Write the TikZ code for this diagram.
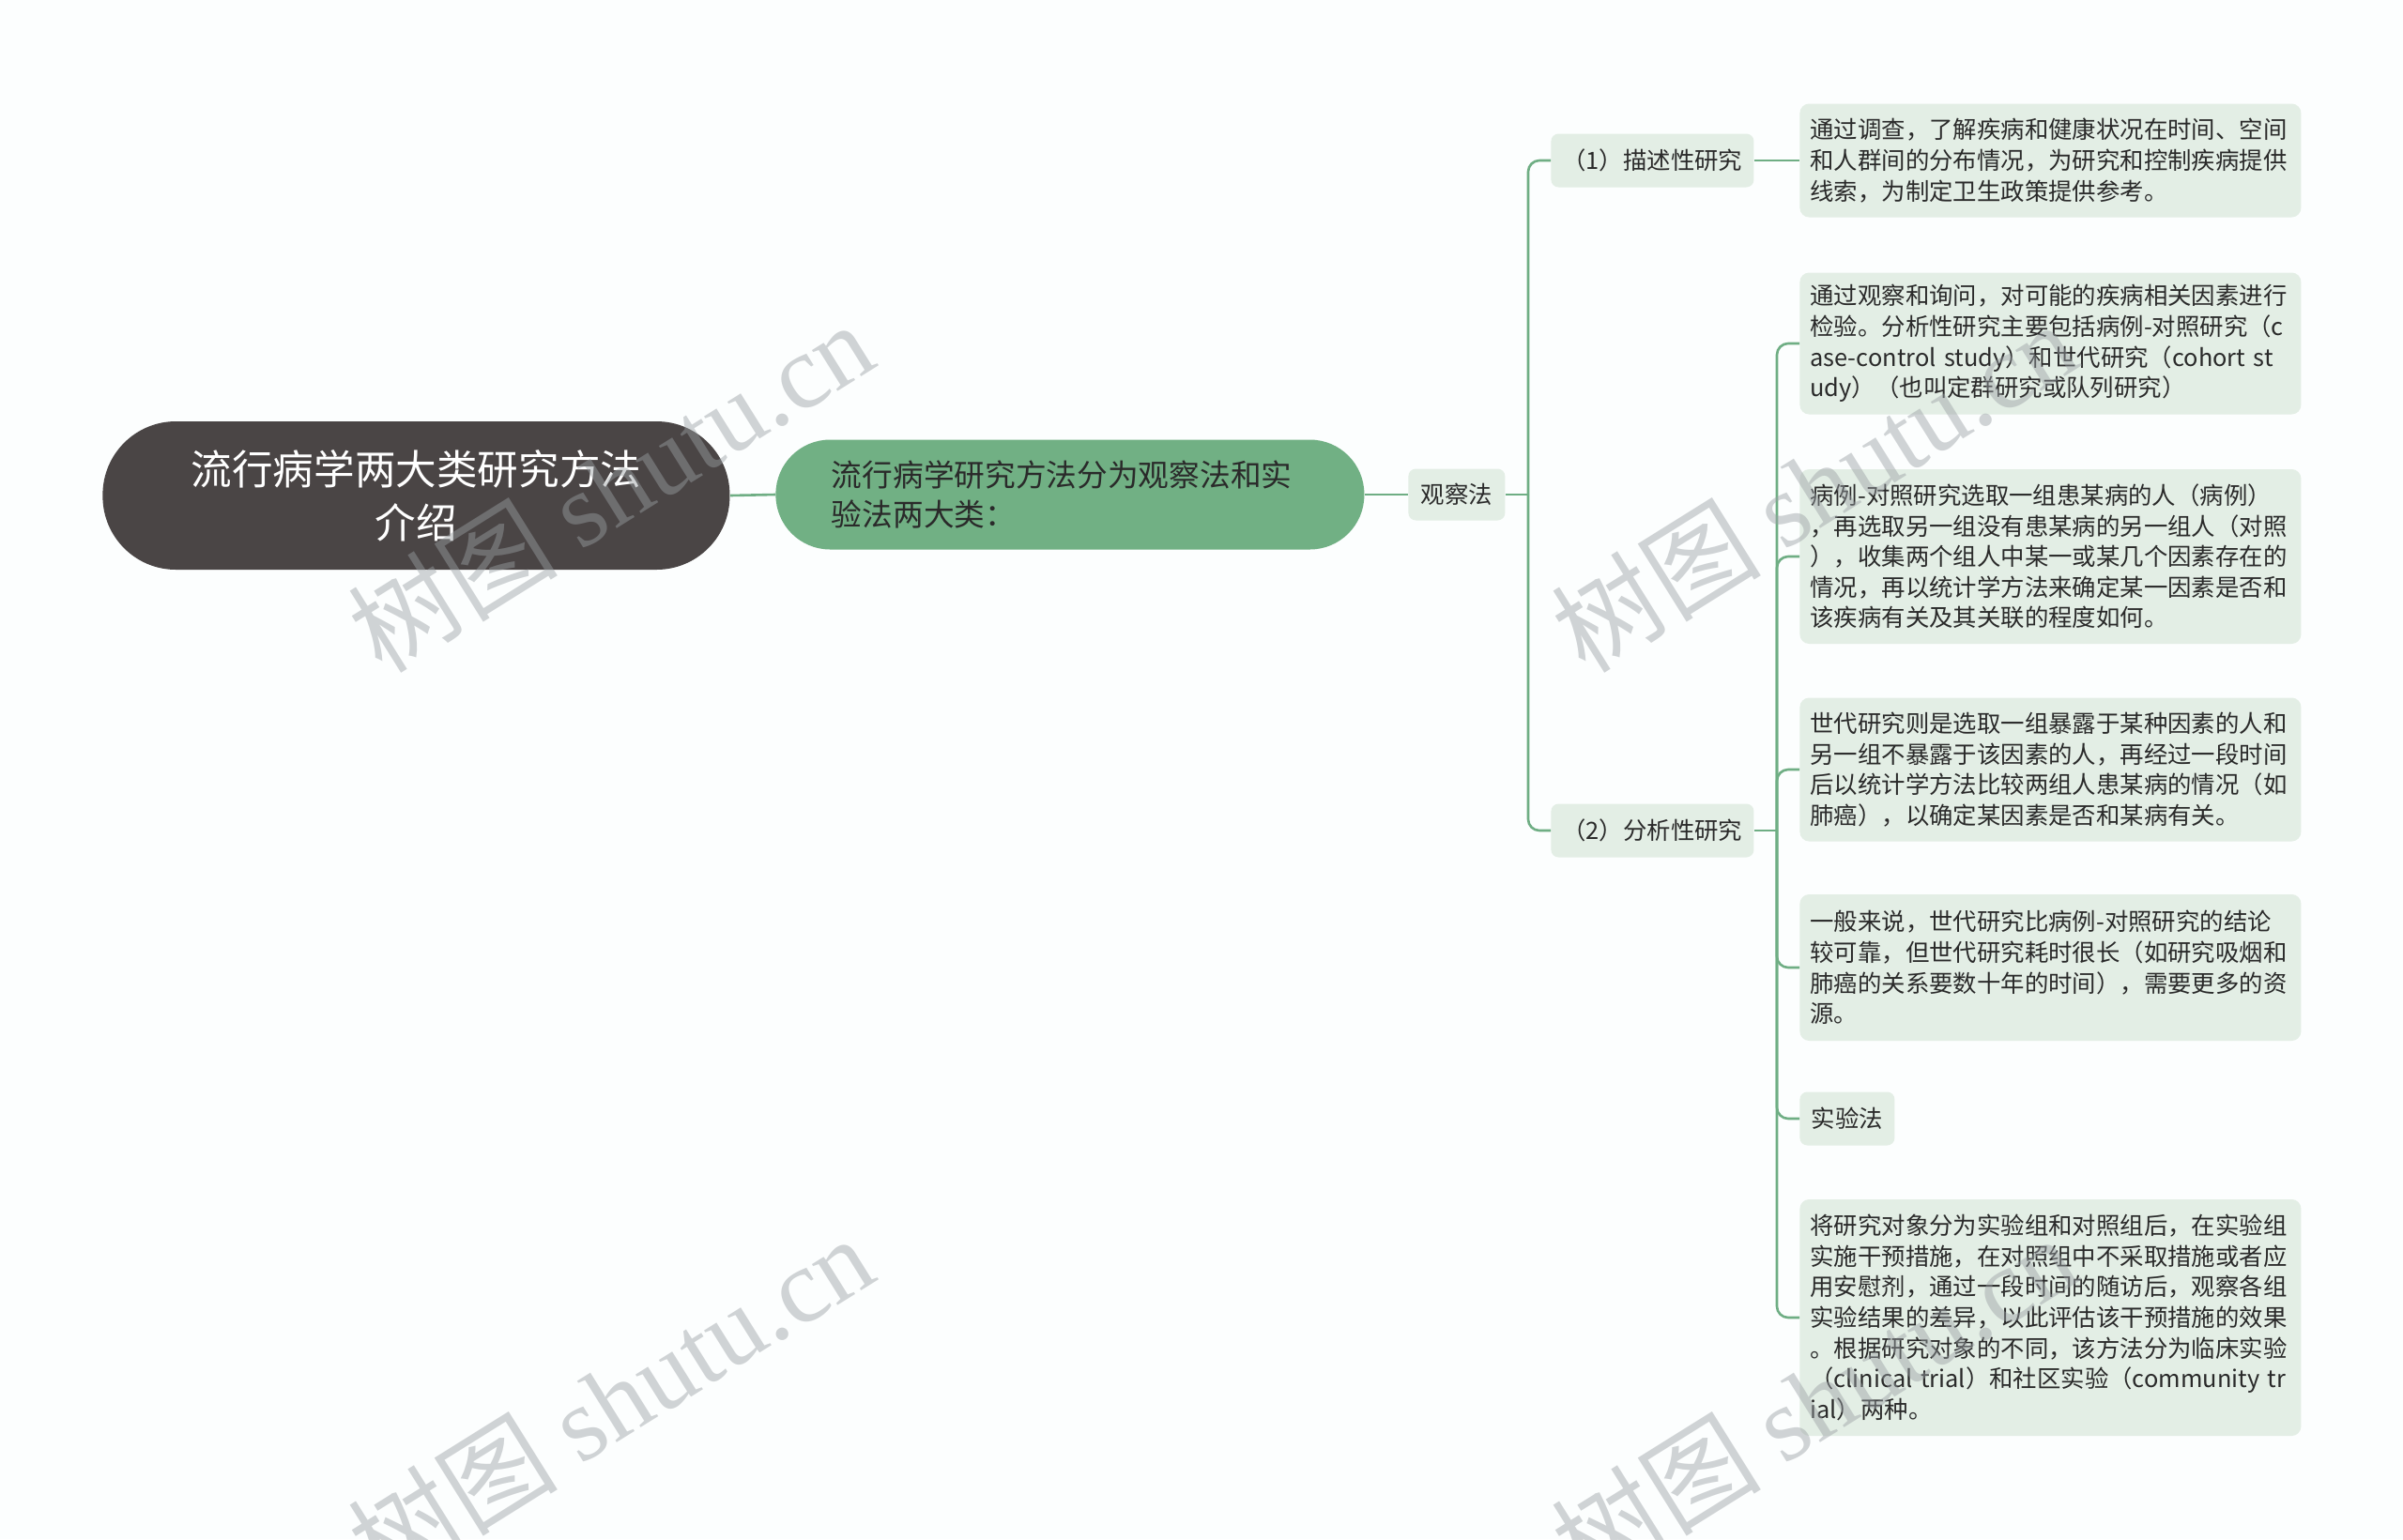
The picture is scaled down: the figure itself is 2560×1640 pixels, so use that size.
\documentclass[tikz,border=0pt]{standalone}
\usepackage{fontspec}
\setmainfont{Noto Sans CJK SC}
\newfontfamily\wmlatin{Liberation Serif}
\usetikzlibrary{calc}
\definecolor{linec}{HTML}{6FAE84}
\definecolor{subc}{HTML}{71B084}
\definecolor{boxc}{HTML}{E3EEE5}
\definecolor{rootc}{HTML}{4A4545}
\definecolor{txtc}{HTML}{2A2A2A}
\definecolor{wmc}{HTML}{9AA0A4}
\definecolor{bgc}{HTML}{FCFEFE}
\tikzset{
  conn/.style={draw=linec, line width=1.3pt},
  tbox/.style={fill=boxc, rounded corners=5pt, anchor=west, minimum width=267pt,
    text width=256pt, align=left, inner xsep=5.5pt, inner ysep=0pt,
    font=\fontsize{12.7pt}{16.3pt}\selectfont, text=txtc},
  sbox/.style={fill=boxc, rounded corners=4pt, anchor=west, align=center,
    inner xsep=0pt, inner ysep=0pt, minimum height=28.5pt,
    font=\fontsize{12.7pt}{16.3pt}\selectfont, text=txtc},
  wm/.style={text=wmc, opacity=0.45, rotate=32, font=\fontsize{56pt}{60pt}\selectfont, inner sep=0pt}
}
\begin{document}
\begin{tikzpicture}[x=0.5pt,y=-0.5pt]
\clip (0,0) rectangle (2560,1640);
\fill[bgc] (0,0) rectangle (2560,1640);

% main nodes
\node[fill=rootc, rounded corners=39pt, anchor=west, minimum width=334pt, minimum height=79pt,
  align=center, text=white, font=\fontsize{21.8pt}{28.5pt}\selectfont, inner sep=0pt]
  (root) at (109,528) {流行病学两大类研究方法\\介绍};
\node[fill=subc, rounded corners=29pt, anchor=west, minimum width=313.5pt, minimum height=58.5pt,
  text width=254pt, align=left, text=txtc, font=\fontsize{16.35pt}{21.2pt}\selectfont, inner sep=0pt]
  (sub) at (826,527) {流行病学研究方法分为观察法和实\\验法两大类：};
\node[sbox, minimum width=51.5pt, minimum height=27.5pt] (obs) at (1500,527) {观察法};
\node[sbox, minimum width=108pt] (d1) at (1652,171) {（1）描述性研究};
\node[sbox, minimum width=108pt] (d2) at (1652,885) {（2）分析性研究};

\node[tbox, minimum height=60.5pt] (b1) at (1917,171) {通过调查，了解疾病和健康状况在时间、空间\\和人群间的分布情况，为研究和控制疾病提供\\线索，为制定卫生政策提供参考。};
\node[tbox, minimum height=75.5pt] (b2) at (1917,366) {通过观察和询问，对可能的疾病相关因素进行\\检验。分析性研究主要包括病例-对照研究（c\\ase-control study）和世代研究（cohort st\\udy）（也叫定群研究或队列研究）};
\node[tbox, minimum height=93pt] (b3) at (1917,593) {病例-对照研究选取一组患某病的人（病例）\\，再选取另一组没有患某病的另一组人（对照\\），收集两个组人中某一或某几个因素存在的\\情况，再以统计学方法来确定某一因素是否和\\该疾病有关及其关联的程度如何。};
\node[tbox, minimum height=76.5pt] (b4) at (1917,820) {世代研究则是选取一组暴露于某种因素的人和\\另一组不暴露于该因素的人，再经过一段时间\\后以统计学方法比较两组人患某病的情况（如\\肺癌），以确定某因素是否和某病有关。};
\node[tbox, minimum height=78pt] (b5) at (1917,1031) {一般来说，世代研究比病例-对照研究的结论\\较可靠，但世代研究耗时很长（如研究吸烟和\\肺癌的关系要数十年的时间），需要更多的资\\源。};
\node[sbox, minimum width=50.5pt] (exp) at (1917,1192) {实验法};
\node[tbox, minimum height=126pt] (b7) at (1917,1404) {将研究对象分为实验组和对照组后，在实验组\\实施干预措施，在对照组中不采取措施或者应\\用安慰剂，通过一段时间的随访后，观察各组\\实验结果的差异，以此评估该干预措施的效果\\。根据研究对象的不同，该方法分为临床实验\\（clinical trial）和社区实验（community tr\\ial）两种。};

% connectors
\draw[conn] (root.east) -- (sub.west);
\draw[conn] (sub.east) -- (obs.west);
\coordinate (j1) at (1628,527);
\draw[conn] (obs.east) -- (j1);
\draw[conn, rounded corners=6pt] (d1.west) -| (j1);
\draw[conn, rounded corners=6pt] (d2.west) -| (j1);
\draw[conn] (d1.east) -- (b1.west);
\coordinate (j2) at (1893,885);
\draw[conn] (d2.east) -- (j2);
\foreach \b in {b2,b3,b4,b5,exp,b7}
  \draw[conn, rounded corners=6pt] (\b.west) -| (j2);

% watermarks
\node[wm] (w1) at (650,518) {树图 {\wmlatin shutu.cn}};
\node[wm] (w2) at (650,1492) {树图 {\wmlatin shutu.cn}};
\node[wm] (w3) at (1932,518) {树图 {\wmlatin shutu.cn}};
\node[wm] (w4) at (1932,1492) {树图 {\wmlatin shutu.cn}};
\end{tikzpicture}
\end{document}
